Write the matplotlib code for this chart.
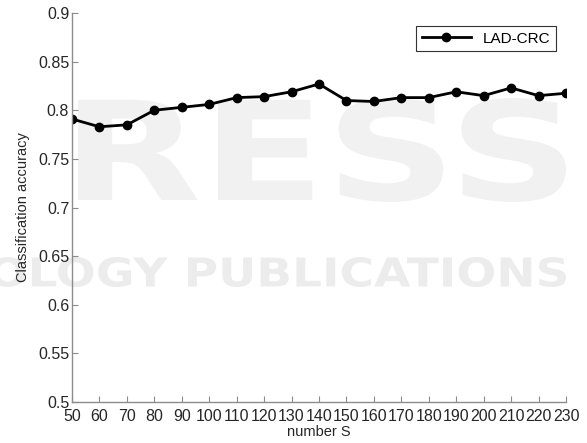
import numpy as np
from matplotlib import pyplot as plt
from matplotlib.textpath import TextPath
from matplotlib.patches import PathPatch
from matplotlib.font_manager import FontProperties
from matplotlib.transforms import Affine2D

# values
number_s = [50, 60, 70, 80, 90, 100, 110, 120, 130, 140,
            150, 160, 170, 180, 190, 200, 210, 220, 230]
accuracy = [0.791, 0.783, 0.785, 0.800, 0.803, 0.806, 0.813, 0.814, 0.819, 0.827,
            0.810, 0.809, 0.813, 0.813, 0.819, 0.815, 0.823, 0.815, 0.8175]
y_ticks = [0.5, 0.55, 0.6, 0.65, 0.7, 0.75, 0.8, 0.85, 0.9]
y_labels = ["0.5", "0.55", "0.6", "0.65", "0.7", "0.75", "0.8", "0.85", "0.9"]

W, H = 587, 443

plt.rcParams["font.family"] = ["Liberation Sans", "DejaVu Sans"]


def add_watermark(fig, text, x0, x1, y0, y1, color="#f1f1f1"):
    """Stretch a text path into a pixel box (top-left origin) behind the axes."""
    tp = TextPath((0, 0), text, size=100,
                  prop=FontProperties(family="DejaVu Sans", weight="bold"))
    ext = tp.get_extents()
    tr = (Affine2D().translate(-ext.x0, -ext.y0)
          .scale((x1 - x0) / ext.width, (y1 - y0) / ext.height)
          .translate(x0, H - y1))
    patch = PathPatch(tp, transform=tr, fc=color, ec="none", zorder=-5)
    fig.patches.append(patch)


fig = plt.figure(figsize=(W / 100, H / 100), dpi=100)
ax = fig.add_axes([72 / W, 1 - 402 / H, (566 - 72) / W, (402 - 13) / H])
ax.patch.set_alpha(0)

add_watermark(fig, "RESS", 78, 566, 98, 202)
add_watermark(fig, "OLOGY PUBLICATIONS", -10, 566, 257, 287, color="#ececec")

ax.plot(number_s, accuracy, color="black", lw=2, marker="o",
        markersize=6, markerfacecolor="black", label="LAD-CRC")

ax.set_xlim(50, 230)
ax.set_ylim(0.5, 0.9)
ax.set_xticks(number_s)
ax.set_yticks(y_ticks)
ax.set_yticklabels(y_labels)

for side in ["top", "right"]:
    ax.spines[side].set_visible(False)
for side in ["left", "bottom"]:
    ax.spines[side].set_color("#8c8c8c")
    ax.spines[side].set_linewidth(1.0)

ax.tick_params(direction="in", length=4, width=0.8, color="#8c8c8c",
               labelsize=11.5, labelcolor="#262626")
ax.tick_params(axis="x", pad=5)
ax.tick_params(axis="y", pad=2)

ax.set_xlabel("number S", fontsize=10.5, color="#262626", labelpad=1)
ax.set_ylabel("Classification accuracy", fontsize=10.5, color="#262626", labelpad=6)

leg = ax.legend(loc="upper right", fontsize=11, handlelength=3.2,
                fancybox=False, framealpha=1, edgecolor="#333333",
                borderpad=0.35, bbox_to_anchor=(0.995, 0.985))
leg.get_frame().set_linewidth(0.8)

plt.savefig("out.png", dpi=100)
